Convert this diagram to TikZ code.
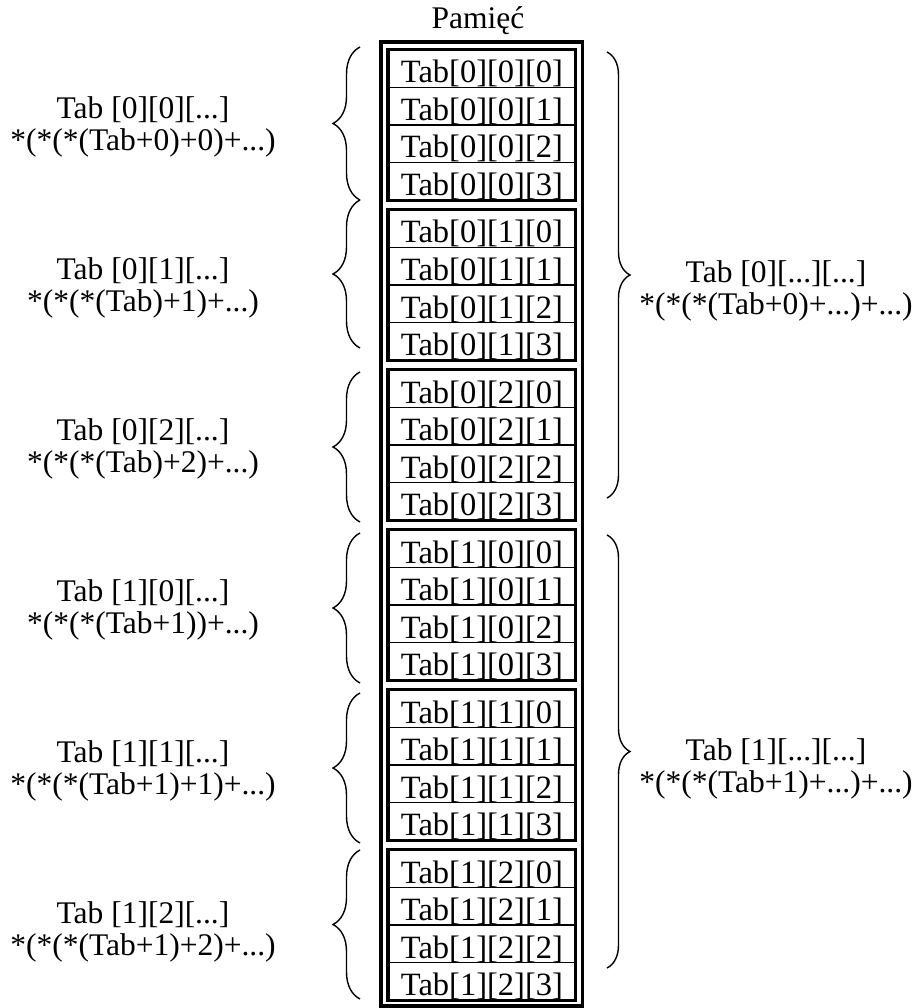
\documentclass[tikz,border=0pt]{standalone}
\usepackage{fontspec}
\setmainfont{Liberation Serif}
\usetikzlibrary{decorations.pathreplacing}
\begin{document}
\begin{tikzpicture}[x=1pt,y=-1pt,
  txt/.style={font=\fontsize{31.5}{32}\selectfont, inner sep=0pt},
  cell/.style={draw, line width=1.2pt, minimum width=186.3pt, minimum height=37.5pt,
    inner sep=0pt, text height=30pt, text depth=1.5pt, font=\fontsize{32.5}{33}\selectfont},
  groupbox/.style={draw, line width=3.5pt},
  outerbox/.style={draw, line width=3.4pt},
  lbrace/.style={decorate, decoration={brace, amplitude=27pt}, line width=1.4pt},
  rbrace/.style={decorate, decoration={brace, amplitude=23pt}, line width=1.4pt},
  lbl/.style={txt, align=center}]
\useasboundingbox (0,0) rectangle (919,1008);
\node[txt, anchor=base] (title) at (478,29) {Pamięć};
\draw[outerbox] (381,42) rectangle (582.5,1006);
\foreach \g in {0,...,5}{
  \pgfmathtruncatemacro\ii{int(\g/3)}
  \pgfmathtruncatemacro\jj{mod(\g,3)}
  \foreach \r in {0,...,3}{
    \node[cell] (c\g\r) at (481.9,{68.75+160*\g+37.5*\r}) {Tab[\ii][\jj][\r]};
  }
  \draw[groupbox] (c\g0.north west) rectangle (c\g3.south east);
}
% left braces
\foreach \t/\b in {47/200, 200/348, 372/522, 533/683, 693/843, 850/999}
  \draw[lbrace] (360,\b) -- (360,\t);
% right braces
\draw[rbrace] (607,52) -- (607,498);
\draw[rbrace] (607,535) -- (607,968);
% left labels
\node[lbl] (l0) at (143,127) {Tab [0][0][...]\\*(*(*(Tab+0)+0)+...)};
\node[lbl] (l1) at (143,288) {Tab [0][1][...]\\*(*(*(Tab)+1)+...)};
\node[lbl] (l2) at (143,449) {Tab [0][2][...]\\*(*(*(Tab)+2)+...)};
\node[lbl] (l3) at (143,610) {Tab [1][0][...]\\*(*(*(Tab+1))+...)};
\node[lbl] (l4) at (143,771) {Tab [1][1][...]\\*(*(*(Tab+1)+1)+...)};
\node[lbl] (l5) at (143,932) {Tab [1][2][...]\\*(*(*(Tab+1)+2)+...)};
% right labels
\node[lbl] (r0) at (776,291) {Tab [0][...][...]\\*(*(*(Tab+0)+...)+...)};
\node[lbl] (r1) at (776,769) {Tab [1][...][...]\\*(*(*(Tab+1)+...)+...)};
\end{tikzpicture}
\end{document}
